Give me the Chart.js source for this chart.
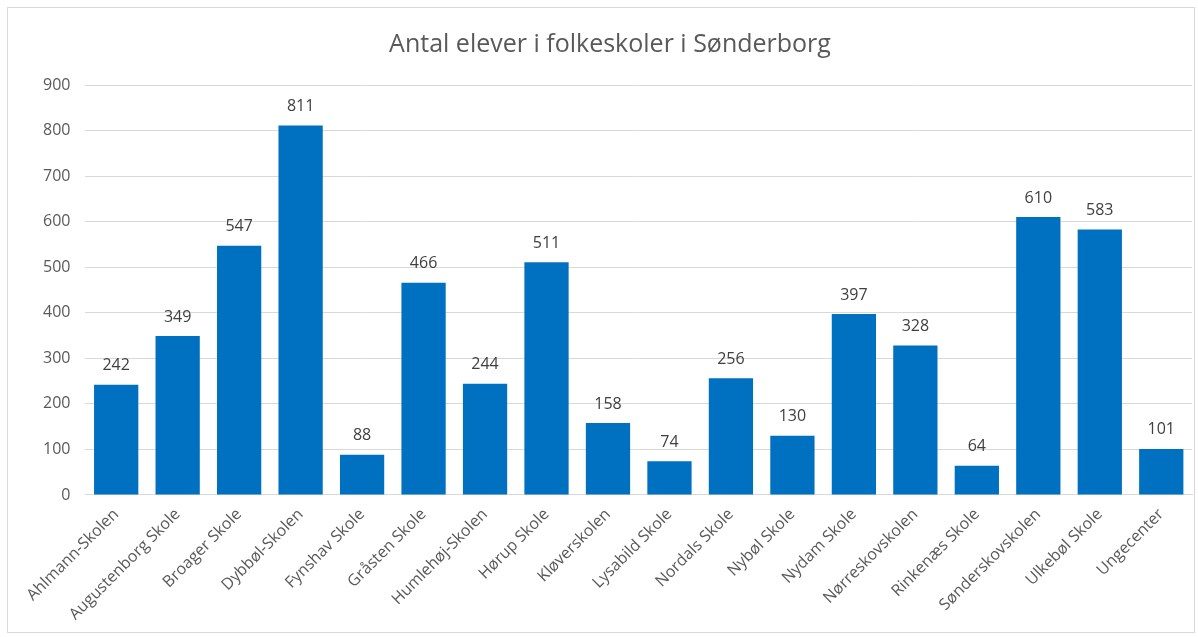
<!DOCTYPE html>
<html>
<head>
<meta charset="utf-8">
<script src="https://cdn.jsdelivr.net/npm/chart.js@4/dist/chart.umd.min.js"></script>
<style>
  body { margin: 0; background: #fff; }
  .wrap { position: absolute; left: 7px; top: 7px; width: 1186px; height: 624px; border: 1px solid #d9d9d9; }
</style>
</head>
<body>
<div class="wrap"><canvas id="elever"></canvas></div>
<script>
const schools = ['Ahlmann-Skolen', 'Augustenborg Skole', 'Broager Skole', 'Dybbøl-Skolen', 'Fynshav Skole',
  'Gråsten Skole', 'Humlehøj-Skolen', 'Hørup Skole', 'Kløverskolen', 'Lysabild Skole', 'Nordals Skole',
  'Nybøl Skole', 'Nydam Skole', 'Nørreskovskolen', 'Rinkenæs Skole', 'Sønderskovskolen', 'Ulkebøl Skole', 'Ungecenter'];
const students = [242, 349, 547, 811, 88, 466, 244, 511, 158, 74, 256, 130, 397, 328, 64, 610, 583, 101];
const yMax = 900;
const yStep = 100;

const FONT = '"Open Sans", sans-serif';

// values over the bars
const barLabels = {
  id: 'barLabels',
  afterDatasetsDraw(chart) {
    const c = chart.ctx;
    const meta = chart.getDatasetMeta(0);
    c.save();
    c.font = '16px ' + FONT;
    c.fillStyle = '#404040';
    c.textAlign = 'center';
    c.textBaseline = 'bottom';
    meta.data.forEach((bar, i) => {
      c.fillText(students[i], bar.x, bar.y - 11);
    });
    c.restore();
  }
};

const ctx = document.getElementById('elever').getContext('2d');

new Chart(ctx, {
  type: 'bar',
  data: {
    labels: schools,
    datasets: [{
      label: 'Elever',
      data: students,
      backgroundColor: '#0070C0',
      barPercentage: 0.72,
      categoryPercentage: 1
    }]
  },
  options: {
    responsive: true,
    maintainAspectRatio: false,
    animation: false,
    layout: { padding: { left: 20, right: 2, top: 12, bottom: 6 } },
    plugins: {
      legend: { display: false },
      tooltip: { enabled: false },
      title: {
        display: true,
        text: 'Antal elever i folkeskoler i Sønderborg',
        color: '#595959',
        font: { family: FONT, size: 25, weight: 'normal' },
        padding: { top: 10, bottom: 25 }
      }
    },
    scales: {
      x: {
        grid: { display: false },
        border: { color: '#d9d9d9' },
        ticks: {
          color: '#595959',
          font: { family: FONT, size: 16 },
          minRotation: 45,
          maxRotation: 45,
          padding: 2
        }
      },
      y: {
        min: 0,
        max: yMax,
        grid: { color: '#d9d9d9', drawTicks: false },
        border: { display: false },
        ticks: {
          stepSize: yStep,
          color: '#595959',
          font: { family: FONT, size: 16 },
          padding: 15
        }
      }
    }
  },
  plugins: [barLabels]
});
</script>
</body>
</html>
